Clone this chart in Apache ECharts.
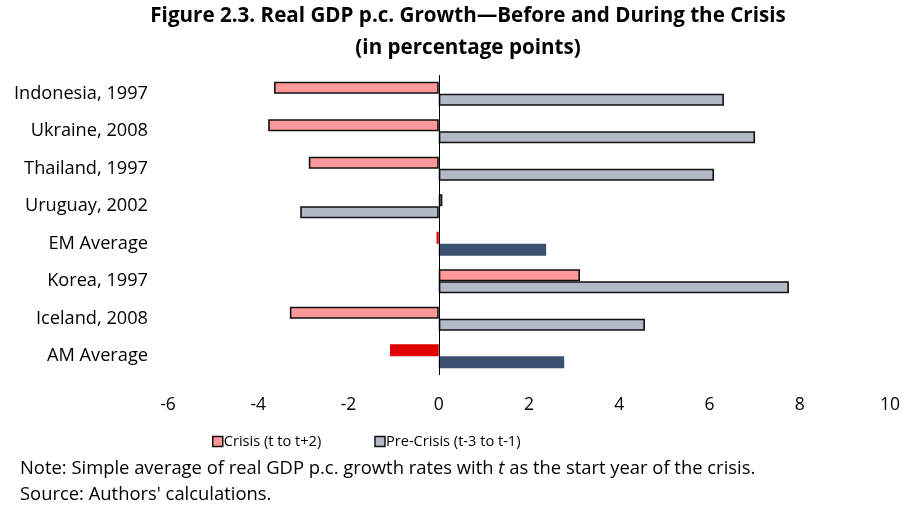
<!DOCTYPE html>
<html>
<head>
<meta charset="utf-8">
<script src="https://cdn.jsdelivr.net/npm/echarts@6/dist/echarts.min.js"></script>
<style>
html,body{margin:0;padding:0;background:#fff;}
#c{width:906px;height:509px;}
</style>
</head>
<body>
<div id="c"></div>
<script>
const categories = ['Indonesia, 1997','Ukraine, 2008','Thailand, 1997','Uruguay, 2002','EM Average','Korea, 1997','Iceland, 2008','AM Average'];
const crisis = [-3.65, -3.78, -2.88, 0.08, -0.05, 3.13, -3.30, -1.08];
const preCrisis = [6.32, 7.01, 6.10, -3.07, 2.38, 7.76, 4.57, 2.78];
const averageCats = ['EM Average','AM Average'];
const xTicks = { min: -6, max: 10, interval: 2 };

const FONT = '"Open Sans", "Noto Sans", sans-serif';
const pink = '#ff9999', grey = '#b3b9c6', red = '#e00000', navy = '#3b5070';

function build(vals, normal, avg) {
  return vals.map((v, i) => {
    const isAvg = averageCats.includes(categories[i]);
    return {
      value: v,
      itemStyle: isAvg ? { color: avg, borderWidth: 0 } : { color: normal, borderColor: '#111', borderWidth: 1.6 }
    };
  });
}

const chart = echarts.init(document.getElementById('c'), null, { renderer: 'canvas' });
chart.setOption({
  animation: false,
  backgroundColor: '#fff',
  textStyle: { fontFamily: FONT },
  title: {
    text: 'Figure 2.3. Real GDP p.c. Growth\u2014Before and During the Crisis\n(in percentage points)',
    left: 468, top: 0, padding: 0, textAlign: 'center',
    textStyle: { fontFamily: FONT, fontWeight: 'bold', fontSize: 20.6, lineHeight: 32, color: '#000' }
  },
  grid: { left: 168, right: 16, top: 75, bottom: 134, containLabel: false },
  xAxis: {
    type: 'value', min: xTicks.min, max: xTicks.max, interval: xTicks.interval,
    axisLine: { show: false }, axisTick: { show: false }, splitLine: { show: false },
    axisLabel: { margin: 21, fontSize: 17.5, color: '#000', fontFamily: FONT }
  },
  yAxis: {
    type: 'category', data: categories, inverse: true,
    axisLine: { show: false }, axisTick: { show: false },
    axisLabel: { margin: 20, fontSize: 18.2, color: '#000', fontFamily: FONT, padding: [3, 0, 0, 0] }
  },
  legend: {
    left: 212, top: 434, padding: 0, itemWidth: 10, itemHeight: 10, itemGap: 53,
    icon: 'rect',
    textStyle: { fontSize: 14.6, color: '#000', fontFamily: FONT, padding: [0, 0, 0, -4] },
    data: [
      { name: 'Crisis (t to t+2)', itemStyle: { color: pink, borderColor: '#111', borderWidth: 1.5 } },
      { name: 'Pre-Crisis (t-3 to t-1)', itemStyle: { color: grey, borderColor: '#111', borderWidth: 1.5 } }
    ]
  },
  series: [
    {
      name: 'Crisis (t to t+2)', type: 'bar', barWidth: 12, barGap: '0%',
      itemStyle: { color: pink, borderColor: '#111', borderWidth: 1.6 },
      data: build(crisis, pink, red),
      markLine: {
        silent: true, symbol: 'none', label: { show: false },
        lineStyle: { color: '#000', width: 1, type: 'solid' },
        data: [{ xAxis: 0 }]
      }
    },
    {
      name: 'Pre-Crisis (t-3 to t-1)', type: 'bar', barWidth: 12, barGap: '0%',
      itemStyle: { color: grey, borderColor: '#111', borderWidth: 1.6 },
      data: build(preCrisis, grey, navy)
    }
  ],
  graphic: [
    {
      type: 'text', left: 20, top: 460,
      style: {
        text: '{n|Note: Simple average of real GDP p.c. growth rates with }{i|t}{n| as the start year of the crisis.}',
        rich: {
          n: { fontSize: 18.4, fontFamily: FONT, fill: '#000' },
          i: { fontSize: 18.4, fontFamily: FONT, fontStyle: 'italic', fill: '#000' }
        }
      }
    },
    {
      type: 'text', left: 20, top: 486,
      style: { text: "Source: Authors' calculations.", fontSize: 18.4, fontFamily: FONT, fill: '#000' }
    }
  ]
});
</script>
</body>
</html>
